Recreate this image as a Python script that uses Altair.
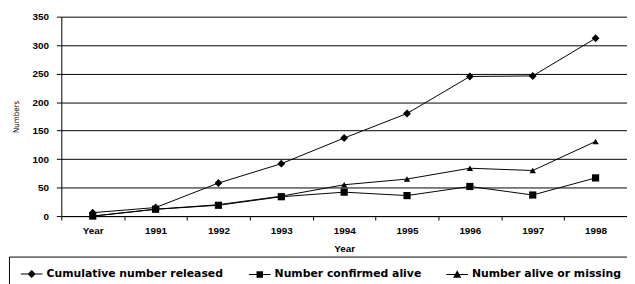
import altair as alt
import pandas as pd

years = ["Year", "1991", "1992", "1993", "1994", "1995", "1996", "1997", "1998"]
series = ["Cumulative number released", "Number confirmed alive", "Number alive or missing"]
cumulative = [6, 15, 58, 92, 137, 180, 245, 246, 312]
confirmed = [0, 12, 19, 34, 42, 36, 52, 37, 67]
alive_or_missing = [0, 12, 20, 35, 55, 65, 84, 80, 131]
y_ticks = [0, 50, 100, 150, 200, 250, 300, 350]

rows = []
for name, vals in zip(series, [cumulative, confirmed, alive_or_missing]):
    for yr, v in zip(years, vals):
        rows.append({"year": yr, "value": v, "series": name})
df = pd.DataFrame(rows)

x_enc = alt.X("year:N", sort=years,
              scale=alt.Scale(type="band", domain=years, paddingInner=0, paddingOuter=0),
              axis=alt.Axis(title="Year", labelAngle=0, tickBand="extent", grid=False,
                            tickSize=4, labelPadding=6, titlePadding=8,
                            labelFont="Liberation Sans", labelFontSize=10, labelFontWeight="bold",
                            titleFont="Liberation Sans", titleFontSize=10, titleFontWeight="bold"))
y_enc = alt.Y("value:Q", scale=alt.Scale(domain=[0, 350], nice=False),
              axis=alt.Axis(title="Numbers", values=y_ticks, grid=True, gridColor="black",
                            gridOpacity=1, gridWidth=1, tickSize=5, labelPadding=8,
                            titlePadding=12, labelFont="Liberation Sans", labelFontSize=10,
                            labelFontWeight="bold", titleFont="DejaVu Sans Condensed",
                            titleFontSize=8, titleFontWeight="normal"))

base = alt.Chart(df)

lines = base.mark_line(color="black", strokeWidth=1).encode(
    x=x_enc, y=y_enc, detail="series:N")

points = base.mark_point(filled=True, color="black", opacity=1).encode(
    x=x_enc, y=y_enc,
    shape=alt.Shape("series:N", scale=alt.Scale(domain=series,
                    range=["diamond", "square", "triangle-up"]), legend=None),
    size=alt.Size("series:N", scale=alt.Scale(domain=series, range=[64, 42, 60]), legend=None),
)

# legend glyphs: a thin bar (the line) with the marker in its middle; filled only
seg = "M-1,-0.1H3V0.1H-1Z"
legend_paths = [
    seg + "M1,-0.75L1.75,0L1,0.75L0.25,0Z",
    seg + "M0.4,-0.6H1.6V0.6H0.4Z",
    seg + "M1,-0.75L1.75,0.6H0.25Z",
]

legend_layer = base.mark_point(filled=True, color="black", size=121, opacity=1).encode(
    x=alt.value(-600), y=alt.value(-600),
    shape=alt.Shape("series:N", scale=alt.Scale(domain=series, range=legend_paths),
                    legend=alt.Legend(title=None, orient="none", legendX=-53, legendY=243,
                                      direction="horizontal", strokeColor="black",
                                      padding=11, columnPadding=22, labelOffset=14,
                                      labelFont="DejaVu Sans", labelFontSize=11,
                                      labelFontWeight="bold", labelColor="black",
                                      labelLimit=400, symbolSize=121,
                                      symbolFillColor="black", symbolOpacity=1)),
)

chart = alt.layer(lines, points, legend_layer).resolve_scale(
    shape="independent", size="independent"
).properties(
    width=573, height=202,
    autosize=alt.AutoSizeParams(type="none"),
    padding={"left": 54, "top": 7, "right": 0, "bottom": 67},
).configure_view(stroke=None).configure_axis(
    domainColor="black", tickColor="black", labelColor="black", titleColor="black"
)

chart.save("out.html", embed_options={"renderer": "svg", "actions": False})
